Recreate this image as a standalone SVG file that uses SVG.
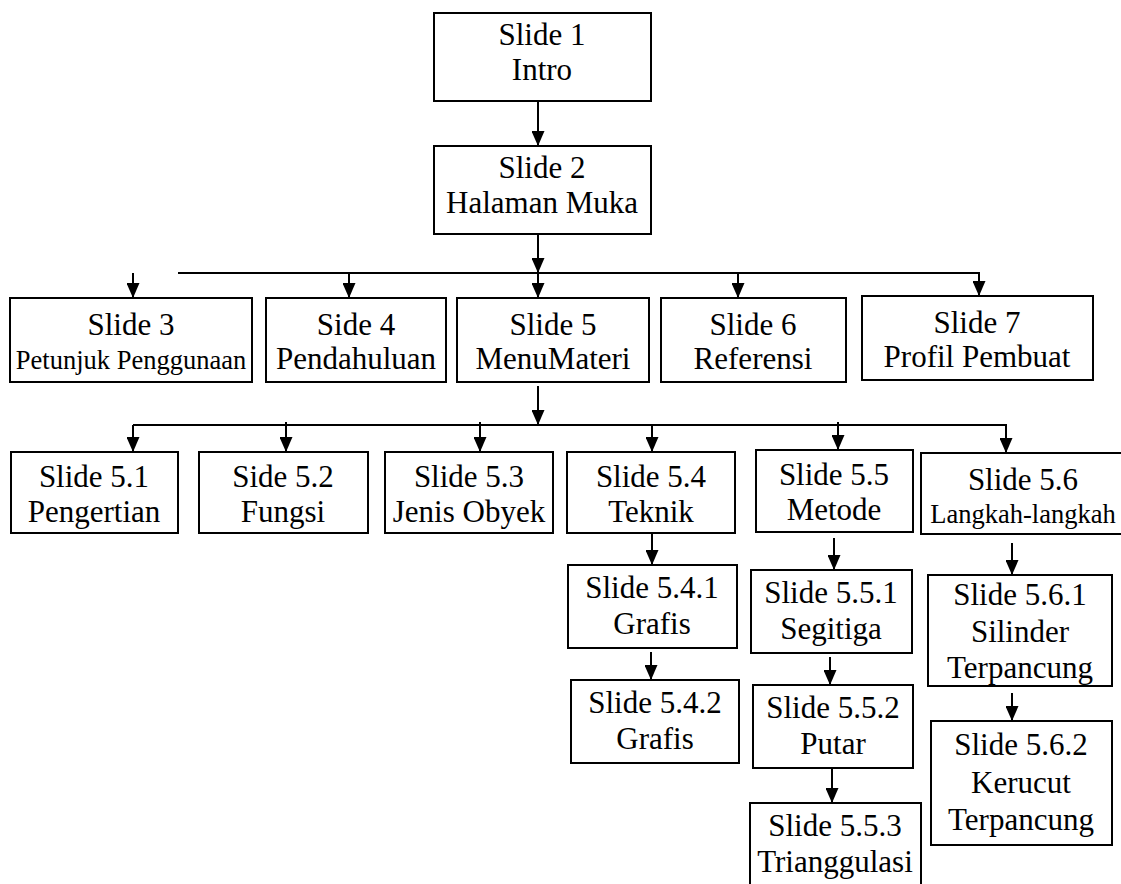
<svg xmlns="http://www.w3.org/2000/svg" width="1121" height="884" viewBox="0 0 1121 884">
<defs>
<marker id="ah" markerUnits="userSpaceOnUse" markerWidth="15" markerHeight="13" viewBox="0 0 15 13" refX="15" refY="6.5" orient="auto">
<path d="M0,0 L15,6.5 L0,13 z" fill="#000"/>
</marker>
<style>
rect{fill:#fff;stroke:#000;stroke-width:2}
text{font-family:"Liberation Serif","Times New Roman",serif;font-size:31px;fill:#000;text-anchor:middle}
text .s{font-size:26.5px}
.c line{stroke:#000;stroke-width:2;fill:none}
.a{marker-end:url(#ah)}
</style>
</defs>
<rect x="0" y="0" width="1121" height="884" style="stroke:none;fill:#fff"/>
<g class="c" id="connectors">
<line class="a" x1="538" y1="101" x2="538" y2="146"/>
<line class="a" x1="538" y1="234" x2="538" y2="273"/>
<line x1="178" y1="273" x2="980" y2="273"/>
<line class="a" x1="133" y1="273" x2="133" y2="298"/>
<line class="a" x1="349" y1="273" x2="349" y2="298"/>
<line class="a" x1="538" y1="273" x2="538" y2="298"/>
<line class="a" x1="738" y1="273" x2="738" y2="298"/>
<line class="a" x1="979" y1="273" x2="979" y2="296"/>
<line class="a" x1="538" y1="386" x2="538" y2="425"/>
<line x1="133" y1="425" x2="1007" y2="425"/>
<line class="a" x1="133" y1="425" x2="133" y2="452"/>
<line class="a" x1="286" y1="422" x2="286" y2="452"/>
<line class="a" x1="480" y1="422" x2="480" y2="452"/>
<line class="a" x1="652" y1="425" x2="652" y2="452"/>
<line class="a" x1="838" y1="422" x2="838" y2="450"/>
<line class="a" x1="1006" y1="425" x2="1006" y2="453"/>
<line class="a" x1="652" y1="533" x2="652" y2="565"/>
<line class="a" x1="651" y1="652" x2="651" y2="680"/>
<line class="a" x1="834" y1="538" x2="834" y2="570"/>
<line class="a" x1="830" y1="657" x2="830" y2="685"/>
<line class="a" x1="832" y1="763" x2="832" y2="803"/>
<line class="a" x1="1012" y1="543" x2="1012" y2="575"/>
<line class="a" x1="1012" y1="693" x2="1012" y2="721"/>
</g>
<g id="n1"><rect x="434" y="13" width="217" height="88"/><text x="542" y="45">Slide 1</text><text x="542" y="80">Intro</text></g>
<g id="n2"><rect x="434" y="146" width="217" height="88"/><text x="542" y="178">Slide 2</text><text x="542" y="213">Halaman Muka</text></g>
<g id="n3"><rect x="10" y="298" width="242" height="84"/><text x="131" y="335">Slide 3</text><text x="131" y="369"><tspan class="s">Petunjuk Penggunaan</tspan></text></g>
<g id="n4"><rect x="266" y="298" width="180" height="84"/><text x="356" y="335">Side 4</text><text x="356" y="369">Pendahuluan</text></g>
<g id="n5"><rect x="457" y="298" width="192" height="84"/><text x="553" y="335">Slide 5</text><text x="553" y="369">MenuMateri</text></g>
<g id="n6"><rect x="661" y="298" width="185" height="84"/><text x="753" y="335">Slide 6</text><text x="753" y="369">Referensi</text></g>
<g id="n7"><rect x="862" y="296" width="231" height="84"/><text x="977" y="333">Slide 7</text><text x="977" y="367">Profil Pembuat</text></g>
<g id="n51"><rect x="11" y="452" width="167" height="81"/><text x="94" y="487">Slide 5.1</text><text x="94" y="522">Pengertian</text></g>
<g id="n52"><rect x="199" y="452" width="169" height="81"/><text x="283" y="487">Side 5.2</text><text x="283" y="522">Fungsi</text></g>
<g id="n53"><rect x="385" y="452" width="168" height="81"/><text x="469" y="487">Slide 5.3</text><text x="469" y="522">Jenis Obyek</text></g>
<g id="n54"><rect x="567" y="452" width="168" height="81"/><text x="651" y="487">Slide 5.4</text><text x="651" y="522">Teknik</text></g>
<g id="n55"><rect x="756" y="450" width="157" height="82"/><text x="834" y="485">Slide 5.5</text><text x="834" y="520">Metode</text></g>
<g id="n56"><rect x="921" y="453" width="210" height="81"/><text x="1023" y="490">Slide 5.6</text><text x="1023" y="523"><tspan class="s">Langkah-langkah</tspan></text></g>
<g id="n541"><rect x="568" y="565" width="169" height="83"/><text x="652" y="598">Slide 5.4.1</text><text x="652" y="634">Grafis</text></g>
<g id="n542"><rect x="571" y="680" width="168" height="83"/><text x="655" y="713">Slide 5.4.2</text><text x="655" y="749">Grafis</text></g>
<g id="n551"><rect x="751" y="570" width="161" height="83"/><text x="831" y="603">Slide 5.5.1</text><text x="831" y="639">Segitiga</text></g>
<g id="n552"><rect x="753" y="685" width="160" height="83"/><text x="833" y="718">Slide 5.5.2</text><text x="833" y="754">Putar</text></g>
<g id="n553"><rect x="750" y="803" width="171" height="100"/><text x="835" y="836">Slide 5.5.3</text><text x="835" y="872">Trianggulasi</text></g>
<g id="n561"><rect x="928" y="575" width="184" height="111"/><text x="1020" y="605">Slide 5.6.1</text><text x="1020" y="642">Silinder</text><text x="1020" y="678">Terpancung</text></g>
<g id="n562"><rect x="931" y="721" width="181" height="124"/><text x="1021" y="755">Slide 5.6.2</text><text x="1021" y="793">Kerucut</text><text x="1021" y="830">Terpancung</text></g>
</svg>
